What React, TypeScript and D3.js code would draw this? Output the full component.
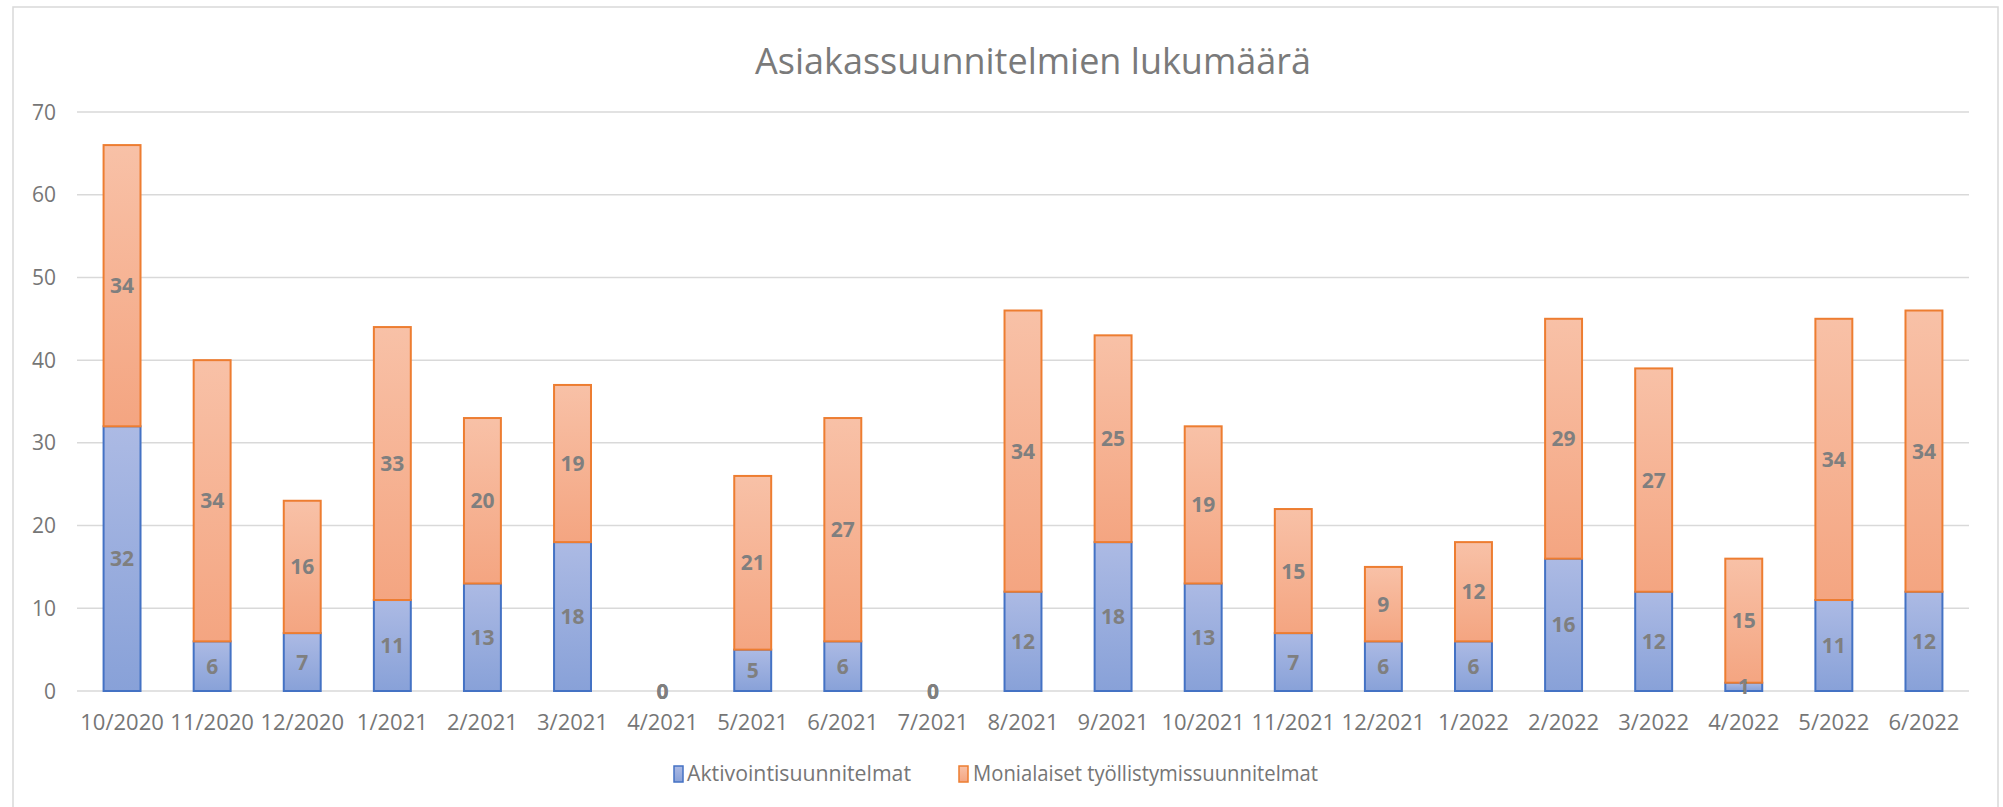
import React from 'react';
import * as d3 from 'd3';

// kuukaudet
const months = [
  '10/2020', '11/2020', '12/2020', '1/2021', '2/2021', '3/2021', '4/2021',
  '5/2021', '6/2021', '7/2021', '8/2021', '9/2021', '10/2021', '11/2021',
  '12/2021', '1/2022', '2/2022', '3/2022', '4/2022', '5/2022', '6/2022',
];
const aktivointi = [32, 6, 7, 11, 13, 18, 0, 5, 6, 0, 12, 18, 13, 7, 6, 6, 16, 12, 1, 11, 12];
const monialaiset = [34, 34, 16, 33, 20, 19, 0, 21, 27, 0, 34, 25, 19, 15, 9, 12, 29, 27, 15, 34, 34];
const yTicks = [0, 10, 20, 30, 40, 50, 60, 70];
const seriesNames = ['Aktivointisuunnitelmat', 'Monialaiset työllistymissuunnitelmat'];

const W = 2003, H = 807;
const font = "'Open Sans', 'Noto Sans', sans-serif";

const App = () => {
  const x = d3.scaleBand().domain(months).range([77, 1969]).paddingInner(0.59).paddingOuter(0.295);
  const y = d3.scaleLinear().domain([0, 70]).range([691, 112]);

  const rows = months.map((m, i) => ({ m, a: aktivointi[i], b: monialaiset[i] }));
  const stack = d3.stack<any>().keys(['a', 'b'])(rows as any);

  const fills = ['url(#gBlue)', 'url(#gOrange)'];
  const strokes = ['#4472c4', '#ed7d31'];

  return (
    <svg width={W} height={H} style={{ position: 'absolute', left: 0, top: 0, background: '#fff' }}>
      <defs>
        <linearGradient id="gBlue" x1="0" y1="0" x2="0" y2="1">
          <stop offset="0" stopColor="#acbae4" />
          <stop offset="1" stopColor="#88a1d8" />
        </linearGradient>
        <linearGradient id="gOrange" x1="0" y1="0" x2="0" y2="1">
          <stop offset="0" stopColor="#f8c1a7" />
          <stop offset="1" stopColor="#f4a581" />
        </linearGradient>
      </defs>

      {/* kaavion reunus */}
      <rect x={13} y={7} width={1985} height={H} fill="none" stroke="#d9d9d9" strokeWidth={1.5} />

      <text x={1033} y={74} textAnchor="middle" fontFamily={font} fontSize={36} fill="#7a7a7a"
        textLength={556} lengthAdjust="spacingAndGlyphs">
        Asiakassuunnitelmien  lukumäärä
      </text>

      {yTicks.map(t => (
        <g key={t}>
          <line x1={77} x2={1969} y1={y(t)} y2={y(t)} stroke="#d9d9d9" strokeWidth={1.5} />
          <text x={56} y={y(t)} dy="0.36em" textAnchor="end" fontFamily={font} fontSize={21} fill="#767676">{t}</text>
        </g>
      ))}

      {stack.map((s, si) => (
        <g key={si}>
          {s.map((d, i) => {
            const v = d[1] - d[0];
            const bx = x(months[i])!;
            const top = y(d[1]), bot = y(d[0]);
            return (
              <g key={i}>
                {v > 0 && (
                  <rect x={bx} y={top} width={x.bandwidth()} height={bot - top}
                    fill={fills[si]} stroke={strokes[si]} strokeWidth={2} />
                )}
              </g>
            );
          })}
        </g>
      ))}

      {stack.map((s, si) => (
        <g key={'l' + si}>
          {s.map((d, i) => {
            const v = d[1] - d[0];
            const cx = x(months[i])! + x.bandwidth() / 2;
            const cy = (y(d[0]) + y(d[1])) / 2;
            return (
              <text key={i} x={cx} y={cy} dy="0.36em" textAnchor="middle" fontFamily={font}
                fontWeight="bold" fontSize={21} fill="#7f7f7f">{v}</text>
            );
          })}
        </g>
      ))}

      {months.map(m => (
        <text key={m} x={x(m)! + x.bandwidth() / 2} y={730} textAnchor="middle" fontFamily={font}
          fontSize={22} fill="#767676">{m}</text>
      ))}

      {/* selite */}
      <rect x={674} y={766} width={9} height={16} fill="url(#gBlue)" stroke="#4472c4" strokeWidth={1.5} />
      <text x={687} y={781} fontFamily={font} fontSize={21} fill="#767676"
        textLength={224} lengthAdjust="spacingAndGlyphs">{seriesNames[0]}</text>
      <rect x={959} y={766} width={9} height={16} fill="url(#gOrange)" stroke="#ed7d31" strokeWidth={1.5} />
      <text x={973} y={781} fontFamily={font} fontSize={21} fill="#767676"
        textLength={345} lengthAdjust="spacingAndGlyphs">{seriesNames[1]}</text>
    </svg>
  );
};

export default App;
